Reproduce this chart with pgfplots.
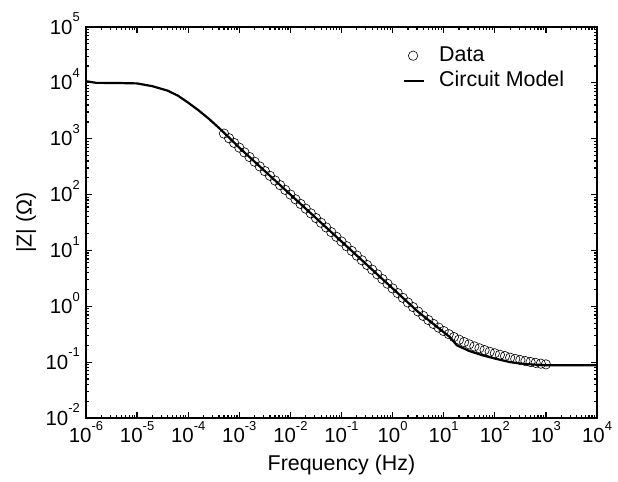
\documentclass[border=0pt]{standalone}
\usepackage{fontspec}
\setmainfont{Liberation Sans}
\usepackage{pgfplots}
\pgfplotsset{compat=1.18}
% tick labels 10^k in the text font
\newcommand{\ex}[1]{\mbox{\fontsize{20.5}{21}\selectfont 10\raisebox{0.6em}{\fontsize{13}{13}\selectfont #1}}}
\newcommand{\ey}[1]{\mbox{\fontsize{20.5}{21}\selectfont 10\raisebox{0.6em}{\smash{\fontsize{13}{13}\selectfont #1}}}}
\pgfplotsset{
  datalegend/.style={legend image code/.code={\draw[##1] plot coordinates {(9bp,0bp)};}},
  linelegend/.style={legend image code/.code={\draw[##1] (0bp,0bp) -- (20bp,0bp);}},
}

\begin{document}
\begin{tikzpicture}
\begin{axis}[
  scale only axis, width=511bp, height=391bp,
  xmode=log, ymode=log,
  xmin=1e-6, xmax=1e4, ymin=1e-2, ymax=1e5,
  xtick={1e-6,1e-5,1e-4,1e-3,1e-2,1e-1,1,1e1,1e2,1e3,1e4},
  xticklabels={\ex{-6},\ex{-5},\ex{-4},\ex{-3},\ex{-2},\ex{-1},\ex{0},\ex{1},\ex{2},\ex{3},\ex{4}},
  minor xtick={
    2e-6,3e-6,4e-6,5e-6,6e-6,7e-6,8e-6,9e-6,
    2e-5,3e-5,4e-5,5e-5,6e-5,7e-5,8e-5,9e-5,
    2e-4,3e-4,4e-4,5e-4,6e-4,7e-4,8e-4,9e-4,
    2e-3,3e-3,4e-3,5e-3,6e-3,7e-3,8e-3,9e-3,
    2e-2,3e-2,4e-2,5e-2,6e-2,7e-2,8e-2,9e-2,
    0.2,0.3,0.4,0.5,0.6,0.7,0.8,0.9,
    2,3,4,5,6,7,8,9,
    20,30,40,50,60,70,80,90,
    200,300,400,500,600,700,800,900,
    2000,3000,4000,5000,6000,7000,8000,9000},
  ytick={1e-2,1e-1,1,1e1,1e2,1e3,1e4,1e5},
  yticklabels={\ey{-2},\ey{-1},\ey{0},\ey{1},\ey{2},\ey{3},\ey{4},\ey{5}},
  minor ytick={
    2e-2,3e-2,4e-2,5e-2,6e-2,7e-2,8e-2,9e-2,
    0.2,0.3,0.4,0.5,0.6,0.7,0.8,0.9,
    2,3,4,5,6,7,8,9,
    20,30,40,50,60,70,80,90,
    200,300,400,500,600,700,800,900,
    2000,3000,4000,5000,6000,7000,8000,9000,
    20000,30000,40000,50000,60000,70000,80000,90000},
  xticklabel style={inner sep=3bp},
  yticklabel style={inner sep=6bp},
  label style={font=\fontsize{21.5}{25}\selectfont},
  xlabel={Frequency (Hz)}, ylabel={|Z| (Ω)},
  xlabel style={yshift=-6bp},
  ylabel style={yshift=0bp},
  axis line style={line width=2.6bp},
  every tick/.style={black, line width=1.2bp},
  major tick length=6.5bp, minor tick length=3.5bp,
  tick align=inside,
  legend style={draw=none, fill=none, inner sep=0pt,
    at={(0.620,0.9565)}, anchor=north west,
    font=\fontsize{21.5}{25}\selectfont,
    nodes={inner sep=2bp, text height=15bp, text depth=4bp},
    row sep=2bp},
  legend cell align=left,
  /tikz/every odd column/.append style={column sep=12bp},
]
% measured data
\addplot[only marks, mark=o, mark size=4.7bp, black, line width=0.6bp, datalegend]
coordinates {
(5.012e-4,1236)(6.310e-4,1019)(7.943e-4,839.5)(1e-3,691.8)(1.259e-3,570.2)
(1.585e-3,469.9)(1.995e-3,387.3)(2.512e-3,319.2)(3.162e-3,263.0)(3.981e-3,216.8)
(5.012e-3,178.6)(6.310e-3,147.2)(7.943e-3,121.3)(1e-2,100.0)(1.259e-2,82.41)
(1.585e-2,67.92)(1.995e-2,55.98)(2.512e-2,46.13)(3.162e-2,38.02)(3.981e-2,31.33)
(5.012e-2,25.82)(6.310e-2,21.28)(7.943e-2,17.54)(0.1,14.45)(0.1259,11.91)
(0.1585,9.817)(0.1995,8.091)(0.2512,6.668)(0.3162,5.495)(0.3981,4.529)
(0.5012,3.733)(0.6310,3.076)(0.7943,2.535)(1,2.089)(1.259,1.722)
(1.585,1.419)(1.995,1.169)(2.512,0.9683)(3.162,0.8054)(3.981,0.6730)
(5.012,0.5675)(6.310,0.4831)(7.943,0.4150)(10,0.3606)(12.59,0.3170)
(15.85,0.2812)(19.95,0.2523)(25.12,0.2286)(31.62,0.2084)(39.81,0.1914)
(50.12,0.1770)(63.10,0.1644)(79.43,0.1535)(100,0.1439)(125.9,0.1355)
(158.5,0.1282)(199.5,0.1202)(251.2,0.1143)(316.2,0.1091)(398.1,0.1045)
(501.2,0.1005)(631.0,0.0970)(794.3,0.0940)(1000,0.0912)
};
\addlegendentry{Data}
% circuit model
\addplot[black, line width=2.2bp, linelegend]
coordinates {
(1e-6,10720)(1.585e-6,10000)(3.981e-6,9950)(1e-5,9772)(1.995e-5,8710)
(3.981e-5,7244)(6.310e-5,5888)(1e-4,4416)(1.585e-4,3236)(2.512e-4,2291)
(3.981e-4,1567)(6.310e-4,1047)(1e-3,691.8)(1e-2,100)(1e-1,14.45)
(1,2.089)(3.162,0.7943)(7.943,0.4074)(13.18,0.2818)(18.20,0.1995)
(31.62,0.1585)(58.88,0.1318)(100,0.1161)(199.5,0.1)(398.1,0.0923)
(1000,0.0881)(10000,0.0877)
};
\addlegendentry{Circuit Model}
\end{axis}
\pgfresetboundingbox
\path[use as bounding box] ([shift={(-86bp,-64bp)}]current axis.south west)
  rectangle ([shift={(21bp,27bp)}]current axis.north east);
\end{tikzpicture}
\end{document}
